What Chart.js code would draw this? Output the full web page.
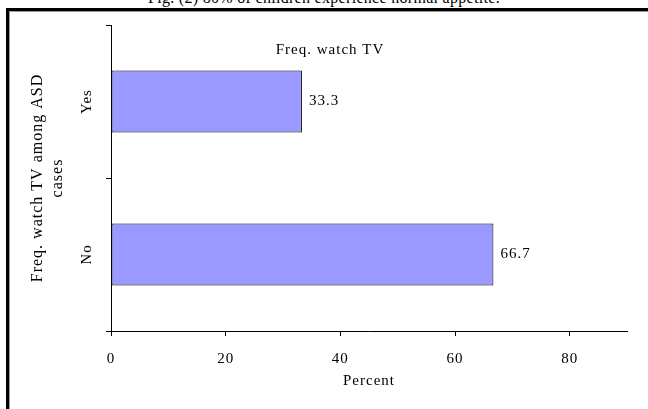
<!DOCTYPE html>
<html>
<head>
<meta charset="utf-8">
<script src="https://cdn.jsdelivr.net/npm/chart.js@4.4.1/dist/chart.umd.min.js"></script>
<style>
  html, body { margin: 0; padding: 0; background: #fff; overflow: hidden; width: 648px; height: 409px; }
  #wrap { position: relative; width: 648px; height: 409px; overflow: hidden; }
  #caption { position: absolute; left: 0; top: -10px; width: 648px; text-align: center;
             font: 16px "Liberation Serif", "Times New Roman", serif; line-height: 16px; letter-spacing: 0.3px;
             color: #000; white-space: nowrap; }
  #frame { position: absolute; left: 6px; top: 8px; width: 720px; height: 520px;
           border-left: 3px solid #000; border-top: 3px solid #000; pointer-events: none; }
  #frame::after { content: ""; position: absolute; left: 0; top: 0; right: 0; bottom: 0;
                  border-left: 1px solid #9a9a9a; border-top: 1px solid #9a9a9a; }
  canvas { position: absolute; left: 0; top: 0; }
</style>
</head>
<body>
<div id="wrap">
  <div id="caption">Fig. (2) 80% of children experience normal appetite.</div>
  <canvas id="chart" width="648" height="409"></canvas>
  <div id="frame"></div>
</div>
<script>
// Responses to "Freq. watch TV" among ASD cases (percent)
const categories = ['Yes', 'No'];
const percentValues = [33.3, 66.7];
const xTickValues = [0, 20, 40, 60, 80];
const chartTitle = 'Freq. watch TV';
const yAxisTitle = ['Freq. watch TV among ASD', 'cases'];
const xAxisTitle = 'Percent';

const SERIF = '"Liberation Serif", "Times New Roman", serif';
const baseFont = { family: SERIF, size: 15 };

// Slightly spaced lettering for every text item on the canvas
const spacedText = {
  id: 'spacedText',
  beforeDraw(chart) { chart.ctx.letterSpacing = '1px'; }
};

// Value labels to the right of each bar
const valueLabels = {
  id: 'valueLabels',
  afterDatasetsDraw(chart) {
    const ctx = chart.ctx;
    const meta = chart.getDatasetMeta(0);
    ctx.save();
    ctx.font = '15px ' + SERIF;
    ctx.fillStyle = '#000';
    ctx.textAlign = 'left';
    ctx.textBaseline = 'middle';
    meta.data.forEach((bar, i) => {
      ctx.fillText(percentValues[i].toFixed(1), bar.x + 7, bar.y);
    });
    ctx.restore();
  }
};

// Chart heading drawn inside the plot region
const innerTitle = {
  id: 'innerTitle',
  afterDraw(chart) {
    const ctx = chart.ctx;
    ctx.save();
    ctx.font = '15px ' + SERIF;
    ctx.fillStyle = '#000';
    ctx.textAlign = 'center';
    ctx.textBaseline = 'middle';
    ctx.fillText(chartTitle, chart.width / 2 + 6, chart.chartArea.top + 25);
    ctx.restore();
  }
};

new Chart(document.getElementById('chart'), {
  type: 'bar',
  data: {
    labels: categories,
    datasets: [{
      data: percentValues,
      backgroundColor: '#9999FF',
      borderColor: '#000',
      borderWidth: 1,
      borderSkipped: false,
      categoryPercentage: 1,
      barPercentage: 0.405
    }]
  },
  options: {
    indexAxis: 'y',
    responsive: false,
    animation: false,
    devicePixelRatio: 1,
    layout: { padding: { left: 0, top: 25, right: 21, bottom: 0 } },
    plugins: { legend: { display: false }, tooltip: { enabled: false }, title: { display: false } },
    scales: {
      x: {
        type: 'linear',
        position: 'bottom',
        min: 0,
        max: 90,
        afterBuildTicks(scale) { scale.ticks = xTickValues.map(v => ({ value: v })); },
        afterFit(scale) { scale.height = 78; },
        grid: { drawOnChartArea: false, drawTicks: true, tickLength: 5, color: '#000', lineWidth: 1 },
        border: { display: true, color: '#000', width: 1 },
        ticks: { color: '#000', font: baseFont, padding: 14, maxRotation: 0 },
        title: { display: true, text: xAxisTitle, color: '#000', font: baseFont, padding: { top: 2, bottom: 19 } }
      },
      y: {
        type: 'category',
        position: 'left',
        afterFit(scale) { scale.width = 111; },
        grid: { drawOnChartArea: false, drawTicks: true, tickLength: 5, color: '#000', lineWidth: 1, offset: true },
        border: { display: true, color: '#000', width: 1 },
        ticks: { color: '#000', font: baseFont, minRotation: 90, maxRotation: 90, crossAlign: 'center', padding: 8 },
        title: { display: true, text: yAxisTitle, color: '#000', font: { family: SERIF, size: 16, lineHeight: 1.3 }, padding: { top: 27, bottom: 0 } }
      }
    }
  },
  plugins: [spacedText, valueLabels, innerTitle]
});
</script>
</body>
</html>
